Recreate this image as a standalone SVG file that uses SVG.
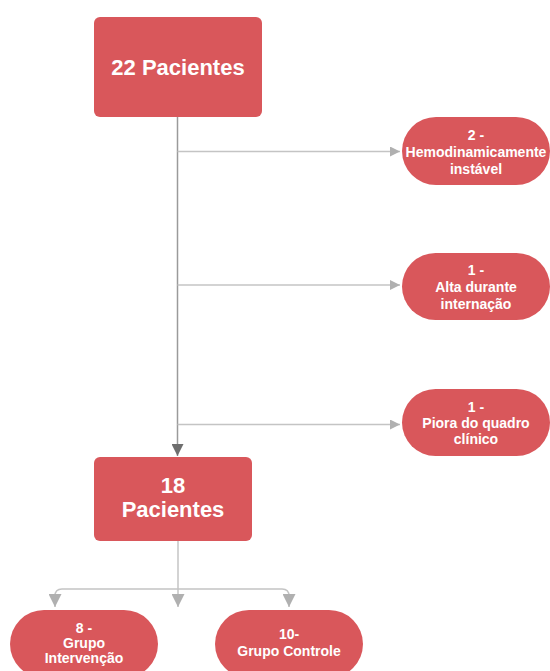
<svg xmlns="http://www.w3.org/2000/svg" width="550" height="671" viewBox="0 0 550 671">
<defs>
<style>
.box{fill:#d9575b;}
.t{font-family:"Liberation Sans",Arial,sans-serif;font-weight:bold;fill:#ffffff;text-anchor:middle;}
.big{font-size:22px;}
.sm{font-size:14px;}
.ln{fill:none;stroke:#c4c4c4;stroke-width:1.5;}
.main{fill:none;stroke:#9a9a9a;stroke-width:1.5;}
</style>
<marker id="ah" viewBox="0 0 10 10" refX="10" refY="5" markerWidth="10" markerHeight="10" markerUnits="userSpaceOnUse" orient="auto">
<path d="M0,0 L10,5 L0,10 Z" fill="#b0b0b0"/>
</marker>
<marker id="ahd" viewBox="0 0 10 10" refX="10" refY="5" markerWidth="12" markerHeight="12" markerUnits="userSpaceOnUse" orient="auto">
<path d="M0,0 L10,5 L0,10 Z" fill="#6e6e6e"/>
</marker>
<marker id="ahb" viewBox="0 0 10 10" refX="10" refY="5" markerWidth="13" markerHeight="13" markerUnits="userSpaceOnUse" orient="auto">
<path d="M0,0 L10,5 L0,10 Z" fill="#b0b0b0"/>
</marker>
</defs>
<rect width="550" height="671" fill="#ffffff"/>
<g id="connectors">
<path class="main" d="M177.5,117 V456" marker-end="url(#ahd)"/>
<path class="ln" d="M177.5,151.5 H400" marker-end="url(#ah)"/>
<path class="ln" d="M177.5,285 H400" marker-end="url(#ah)"/>
<path class="ln" d="M177.5,424.5 H400" marker-end="url(#ah)"/>
<path class="ln" d="M178,541 V607" marker-end="url(#ahb)"/>
<path class="ln" d="M178,589 H62 Q55,589 55,596 V607" marker-end="url(#ahb)"/>
<path class="ln" d="M178,589 H282 Q289,589 289,596 V607" marker-end="url(#ahb)"/>
</g>
<g id="n22">
<rect class="box" x="94" y="17" width="168" height="100" rx="6"/>
<text class="t big" x="178" y="75">22 Pacientes</text>
</g>
<g id="n18">
<rect class="box" x="94" y="457" width="158" height="84" rx="6"/>
<text class="t big" x="173" y="493">18</text>
<text class="t big" x="173" y="517">Pacientes</text>
</g>
<g id="nHemo">
<rect class="box" x="402" y="117" width="148" height="68" rx="34"/>
<text class="t sm" x="476" y="140">2 -</text>
<text class="t sm" x="476" y="157">Hemodinamicamente</text>
<text class="t sm" x="476" y="174">instável</text>
</g>
<g id="nAlta">
<rect class="box" x="402" y="253" width="148" height="67" rx="33.5"/>
<text class="t sm" x="476" y="275">1 -</text>
<text class="t sm" x="476" y="292">Alta durante</text>
<text class="t sm" x="476" y="309">internação</text>
</g>
<g id="nPiora">
<rect class="box" x="402" y="389" width="148" height="67" rx="33.5"/>
<text class="t sm" x="476" y="412">1 -</text>
<text class="t sm" x="476" y="428">Piora do quadro</text>
<text class="t sm" x="476" y="444">clínico</text>
</g>
<g id="nIntervencao">
<rect class="box" x="10" y="610" width="148" height="68" rx="34"/>
<text class="t sm" x="84" y="633">8 -</text>
<text class="t sm" x="84" y="648">Grupo</text>
<text class="t sm" x="84" y="663">Intervenção</text>
</g>
<g id="nControle">
<rect class="box" x="215" y="610" width="148" height="68" rx="34"/>
<text class="t sm" x="289" y="639">10-</text>
<text class="t sm" x="289" y="656">Grupo Controle</text>
</g>
</svg>
